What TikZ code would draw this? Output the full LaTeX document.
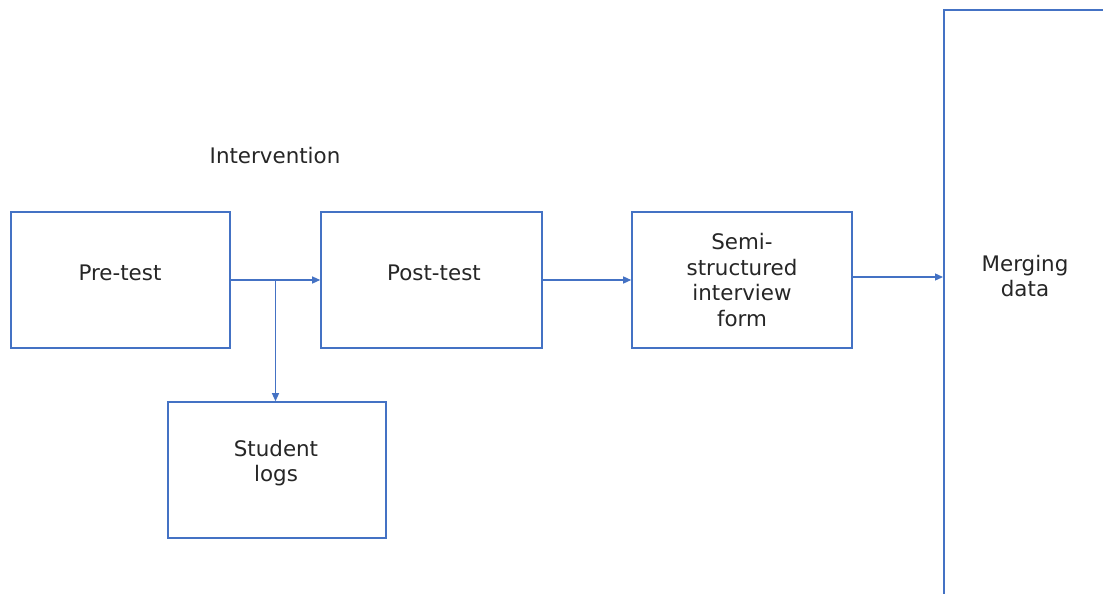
\documentclass[tikz,border=0pt]{standalone}
\usepackage{fontspec}
\setmainfont{DejaVu Sans}
\usetikzlibrary{arrows.meta,calc}
\definecolor{boxblue}{HTML}{4472C4}
\begin{document}
\begin{tikzpicture}[x=1pt,y=-1pt,
  stepbox/.style={draw=boxblue, line width=1.6pt, minimum height=136pt, inner sep=0pt},
  txt/.style={font=\fontsize{21.4}{25.7}\selectfont, align=center, text=black!85, inner sep=0pt},
  conn/.style={draw=boxblue, line width=1.3pt, -{Triangle[length=8pt,width=7pt]}}]
\clip (0,0) rectangle (1103,594);
\fill[white] (0,0) rectangle (1103,594);

\node[stepbox, minimum width=219pt] (pre) at (120.5,280) {};
\node[stepbox, minimum width=221pt] (post) at (431.5,280) {};
\node[stepbox, minimum width=220pt] (semi) at (742,280) {};
\node[stepbox, minimum width=218pt] (logs) at (277,470) {};
\node[stepbox, minimum width=200pt, minimum height=640pt, anchor=north west] (mergebox) at (943,9.5) {};

\node[txt] (pretxt) at (120,273) {Pre-test};
\node[txt] (posttxt) at (434,273) {Post-test};
\node[txt] (semitxt) at (742,280) {Semi-\\structured\\interview\\form};
\node[txt] (logstxt) at (276,463) {Student\\logs};
\node[txt] (mergetxt) at (1025,276) {Merging\\data};
\node[txt] (intervention) at (275,156) {Intervention};

\coordinate (branch) at ($(pre.east)!0.5!(post.west)$);
\draw[conn] (pre.east) -- (post.west);
\draw[conn] (branch) -- (branch |- logs.north);
\draw[conn] (post.east) -- (semi.west);
\draw[conn] ([yshift=3pt]semi.east) -- ([yshift=3pt]semi.east -| mergebox.west);
\end{tikzpicture}
\end{document}
